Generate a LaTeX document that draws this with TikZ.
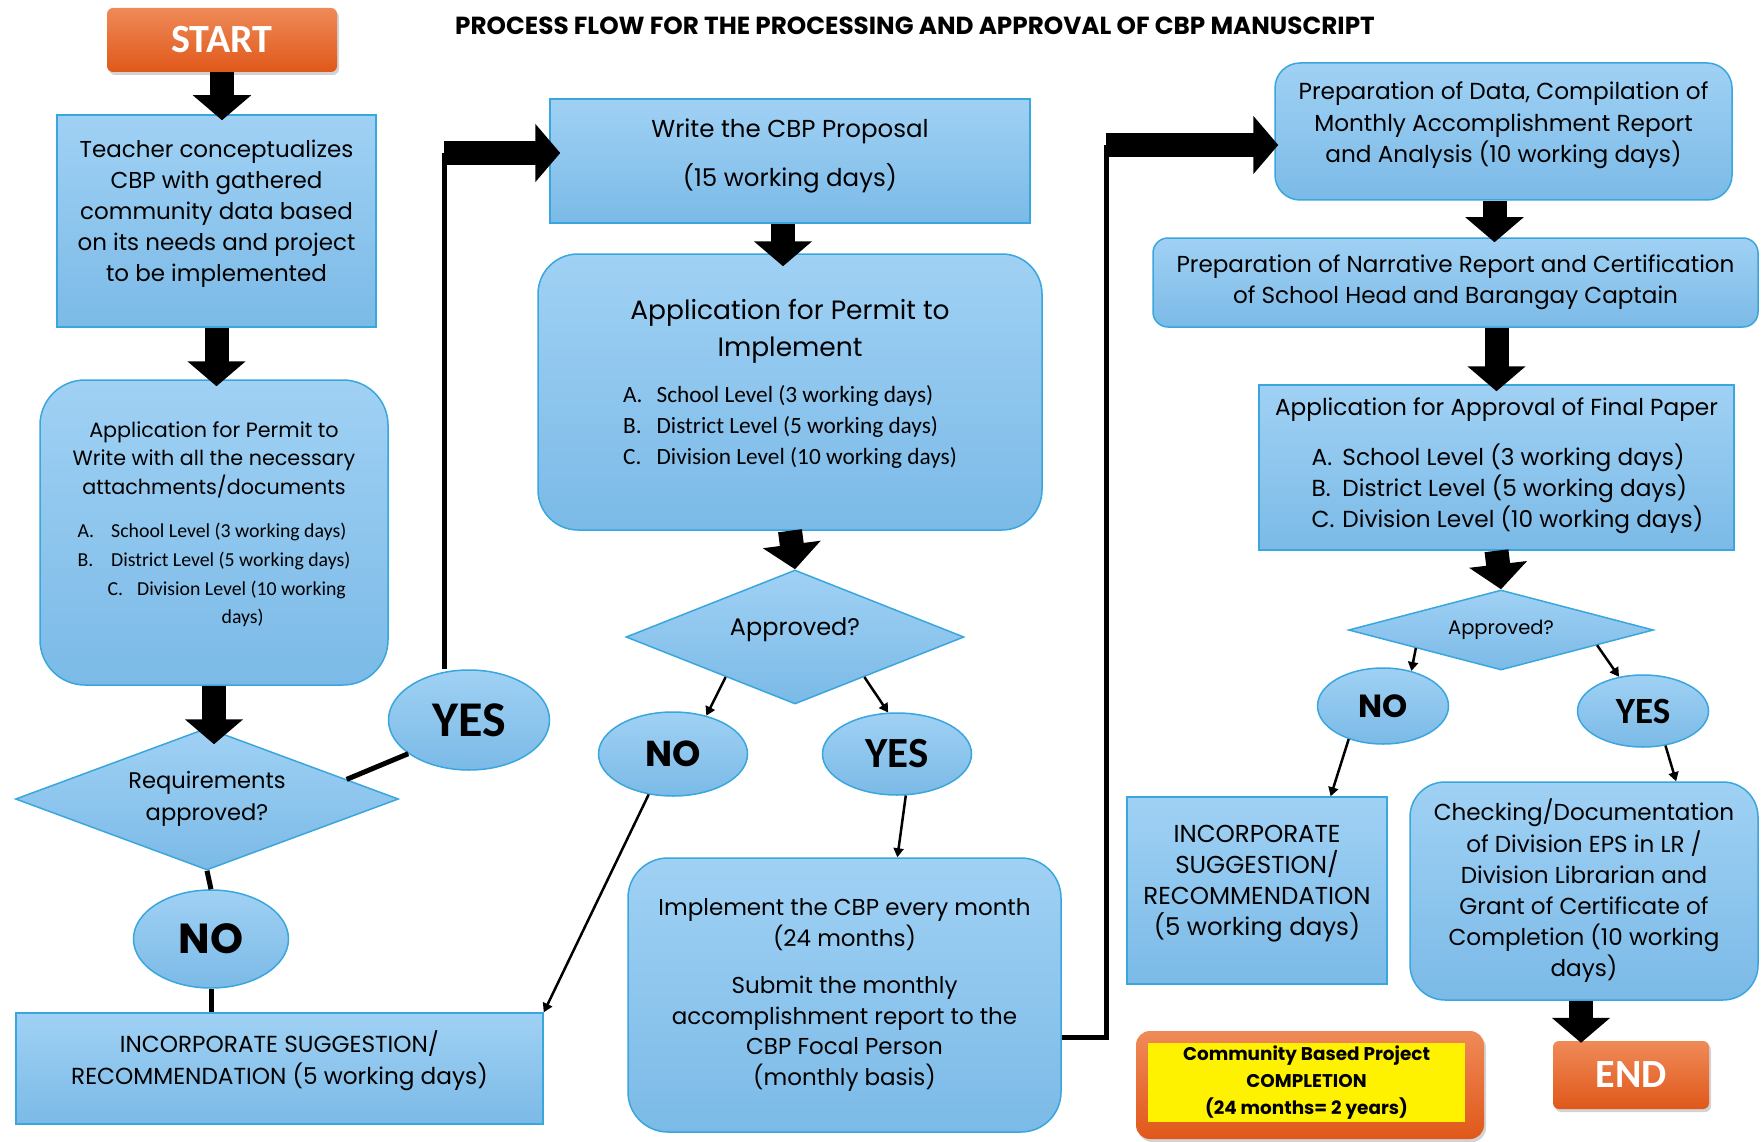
\documentclass[tikz,border=0pt]{standalone}
\usepackage{fontspec}
\setmainfont{Poppins}
\newfontfamily\calib{Carlito}
\usetikzlibrary{positioning,arrows.meta,shapes.geometric,shadows}
\definecolor{boxtop}{HTML}{A0D1F4}
\definecolor{boxbot}{HTML}{7BBAE7}
\definecolor{boxedge}{HTML}{3AA6DE}
\definecolor{orgtop}{HTML}{EF8A58}
\definecolor{orgbot}{HTML}{E0581A}
\newcommand\fs[2]{\fontsize{#1}{#2}\selectfont}
\newcommand\lift[1]{\rule[-#1]{0pt}{#1}}

\begin{document}
\begin{tikzpicture}[x=1pt, y=-1pt,
  panel/.style={draw=boxedge, line width=1.5pt, top color=boxtop, bottom color=boxbot,
                inner sep=0pt, align=center},
  sqbox/.style={panel, rectangle},
  rndbox/.style={panel, rectangle, rounded corners=#1},
  decide/.style={panel, diamond, aspect=#1},
  answer/.style={panel, ellipse},
  term/.style={rectangle, rounded corners=6pt, top color=orgtop, bottom color=orgbot,
               text=white, font=\calib\bfseries\fs{40}{40},
               drop shadow={opacity=0.35, shadow xshift=2pt, shadow yshift=-3pt}},
  block/.style={line width=24pt, -{Triangle[width=57pt,length=25pt]}},
  heavy/.style={line width=5pt},
  link/.style={line width=2.5pt, -{Triangle[width=10pt,length=9pt]}}
]
\useasboundingbox (0,0) rectangle (1761,1142);

% title and terminals
\node[font=\bfseries\fs{24.7}{28}] (title) at (915,26)
  {PROCESS FLOW FOR THE PROCESSING AND APPROVAL OF CBP MANUSCRIPT};
\node[term, minimum width=230pt, minimum height=64pt] (start) at (222,40) {START};
\node[term, minimum width=156pt, minimum height=68pt] (endN) at (1631,1075) {END};

% left column
\node[sqbox, minimum width=319pt, minimum height=212pt, font=\fs{23}{31}] (teacher) at (216.5,221)
  {Teacher conceptualizes\\CBP with gathered\\community data based\\on its needs and project\\to be implemented\lift{20pt}};
\node[rndbox=45pt, minimum width=348pt, minimum height=305pt, font=\fs{20.7}{28.6}] (permW) at (214,532.5)
  {Application for Permit to\\Write with all the necessary\\attachments/documents\\[19pt]
   {\calib\fs{19.8}{28.6}\begin{tabular}{@{}l@{\hspace{17pt}}l@{}}
    A. & School Level (3 working days)\\
    B. & District Level (5 working days)\\
    \multicolumn{2}{@{\hspace{30pt}}l@{}}{C.\hspace{14pt}Division Level (10 working}\\
    \multicolumn{2}{@{\hspace{144pt}}l@{}}{days)\lift{20pt}}
   \end{tabular}}};
\node[decide=2.7, minimum width=383pt, minimum height=142pt, font=\fs{22.6}{31.4}] (reqD) at (207,799)
  {Requirements\\approved?};
\node[answer, minimum width=155pt, minimum height=98pt, font=\bfseries\fs{42}{42}] (noL) at (211,939) {NO};
\node[answer, minimum width=161pt, minimum height=100pt, font=\calib\bfseries\fs{50}{50}] (yesL) at (469,720) {YES};
\node[sqbox, minimum width=527pt, minimum height=111pt, font=\fs{23.2}{31.4}] (incL) at (279.5,1068.5)
  {INCORPORATE SUGGESTION/\\RECOMMENDATION (5 working days)\lift{22pt}};

% middle column
\node[sqbox, minimum width=480pt, minimum height=124pt, font=\fs{24.5}{28}] (write) at (790,161)
  {Write the CBP Proposal\\[19pt](15 working days)\lift{16pt}};
\node[rndbox=40pt, minimum width=504pt, minimum height=276pt, font=\fs{26.5}{37}] (permI) at (790,392)
  {Application for Permit to\\Implement\\[16pt]
   {\calib\fs{23.3}{31}\begin{tabular}{@{}l@{\hspace{14pt}}l@{}}
    A. & School Level (3 working days)\\
    B. & District Level (5 working days)\\
    C. & Division Level (10 working days)\lift{20pt}
   \end{tabular}}};
\node[decide=2.5, minimum width=338pt, minimum height=134pt, font=\fs{24}{28}] (apprM) at (795,637) {Approved?\lift{20pt}};
\node[answer, minimum width=149pt, minimum height=84pt, font=\bfseries\fs{36}{36}] (noM) at (673,754) {NO};
\node[answer, minimum width=149pt, minimum height=82pt, font=\calib\bfseries\fs{43}{43}] (yesM) at (897,754) {YES};
\node[rndbox=40pt, minimum width=433pt, minimum height=274pt, font=\fs{23}{30.5}] (impl) at (844.5,995)
  {Implement the CBP every month\\(24 months)\\[17pt]Submit the monthly\\accomplishment report to the\\CBP Focal Person\\(monthly basis)};

% right column
\node[rndbox=25pt, minimum width=457pt, minimum height=137pt, font=\fs{23.2}{31.4}] (prep) at (1503.5,131.5)
  {Preparation of Data, Compilation of\\Monthly Accomplishment Report\\and Analysis (10 working days)\lift{18pt}};
\node[rndbox=15pt, minimum width=605pt, minimum height=89pt, font=\fs{23.1}{31.4}] (narr) at (1455.5,282.5)
  {Preparation of Narrative Report and Certification\\of School Head and Barangay Captain};
\node[sqbox, minimum width=475pt, minimum height=165pt, font=\fs{23.2}{31}] (final) at (1496.5,467.5)
  {Application for Approval of Final Paper\\[21pt]
   \hspace*{22pt}\begin{tabular}{@{}l@{\hspace{8pt}}l@{}}
    A. & School Level (3 working days)\\
    B. & District Level (5 working days)\\
    C. & Division Level (10 working days)
   \end{tabular}};
\node[decide=3.8, minimum width=305pt, minimum height=80pt, font=\fs{19.5}{22}] (apprR) at (1501,630) {Approved?};
\node[answer, minimum width=131pt, minimum height=76pt, font=\bfseries\fs{32}{32}] (noR) at (1383,706) {NO};
\node[answer, minimum width=131pt, minimum height=72pt, font=\calib\bfseries\fs{37}{37}] (yesR) at (1643,711) {YES};
\node[sqbox, minimum width=260pt, minimum height=187pt, font=\fs{24.5}{31}] (incR) at (1257,890.5)
  {INCORPORATE\\SUGGESTION/\\RECOMMENDATION\\(5 working days)\lift{20pt}};
\node[rndbox=35pt, minimum width=348pt, minimum height=218pt, font=\fs{23.1}{31.2}] (check) at (1584,891)
  {Checking/Documentation\\of Division EPS in LR /\\Division Librarian and\\Grant of Certificate of\\Completion (10 working\\days)};
\node[term, minimum width=348pt, minimum height=108pt, rounded corners=14pt] (done) at (1310,1085) {};
\node[fill=yellow, minimum width=317pt, minimum height=79pt, inner sep=0pt, align=center,
      font=\bfseries\fs{18.4}{27}] (donetext) at (1306.5,1082.5)
  {Community Based Project\\COMPLETION\\(24 months= 2 years)};

% block arrows
\draw[block, shorten >=-6pt] (start.south) -- (start.south |- teacher.north);
\draw[block, shorten >=-7pt] (teacher.south) -- (teacher.south |- permW.north);
\draw[block, shorten >=-17pt] (permW.south) -- (permW.south |- reqD.north);
\draw[block, shorten >=-13pt] ([xshift=-7pt]write.south) -- ([xshift=-7pt]write.south |- permI.north);
\draw[block] (permI.south) -- (apprM.north);
\draw[block, shorten >=-5pt] ([xshift=-9pt]prep.south) -- ([xshift=-9pt]prep.south |- narr.north);
\draw[block, shorten >=-7pt] ([xshift=41pt]narr.south) -- ([xshift=41pt]narr.south |- final.north);
\draw[block] (final.south) -- (apprR.north);
\draw[block, shorten >=-2pt] ([xshift=-3pt]check.south) -- ([xshift=-3pt]check.south |- endN.north);

% loop back lines
\coordinate (upL) at (444,153);
\coordinate (upR) at (1106,145);
\coordinate (lowR) at (1106,1037);
\draw[heavy] (upL |- yesL.north) -- (upL);
\draw[block, shorten >=-11pt] (upL) -- (upL -| write.west);
\draw[heavy] (lowR -| impl.east) -- (lowR) -- (upR);
\draw[block, shorten >=-4pt] (upR) -- (upR -| prep.west);

% decisions
\draw[heavy] (reqD.8) -- (yesL.209);
\draw[heavy] (reqD.south) -- (noL.north);
\draw[heavy] (noL.south) -- (noL.south |- incL.north);
\draw[link] (apprM.210) -- (noM.49);
\draw[link] (apprM.330) -- (yesM.102);
\draw[link] (yesM.282) -- (impl.69.8);
\draw[link] (noM.239) -- (incL.12.2);
\draw[link] (apprR.192.6) -- (noR.51);
\draw[link] (apprR.351.4) -- (yesR.125.5);
\draw[link] (noR.224) -- (incR.52.3);
\draw[link] (yesR.303.3) -- (check.50.8);
\end{tikzpicture}
\end{document}
